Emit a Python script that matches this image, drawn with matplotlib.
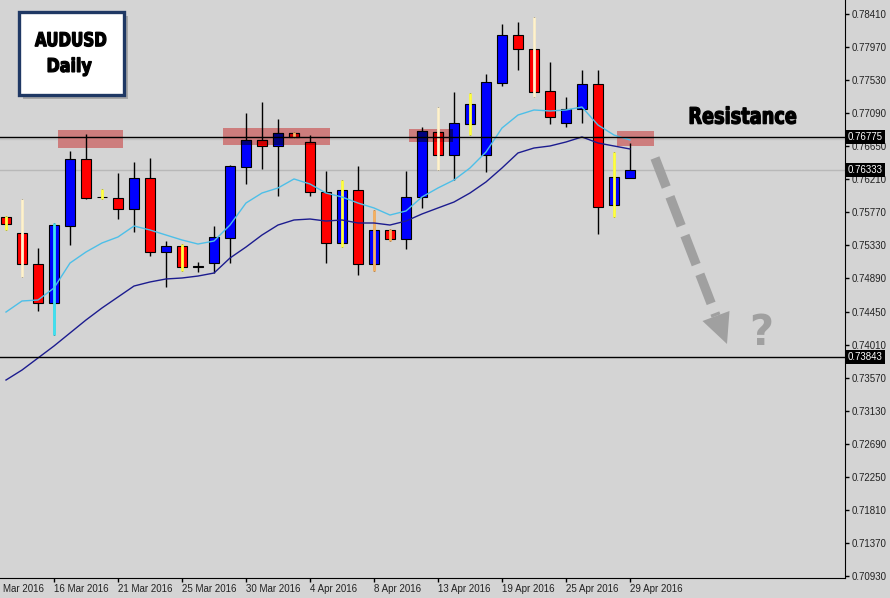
import numpy as np
import matplotlib
matplotlib.use('Agg')
import matplotlib.pyplot as plt
import matplotlib.transforms as mtransforms
from matplotlib.patches import Rectangle, Polygon, PathPatch
from matplotlib.lines import Line2D
from matplotlib.textpath import TextPath
from matplotlib.font_manager import FontProperties

# AUDUSD daily bars, bar 0 = 10 Mar 2016 ... bar 39 = 29 Apr 2016
opens = [0.75712, 0.75491, 0.75078, 0.74559, 0.75592, 0.76476, 0.75978, 0.75957, 0.75810, 0.76223,
         0.75238, 0.75322, 0.75042, 0.75099, 0.75432, 0.76377, 0.76733, 0.76657, 0.76822, 0.76702,
         0.76036, 0.75366, 0.76067, 0.75078, 0.75535, 0.75411, 0.75970, 0.76835, 0.76529, 0.76942,
         0.76529, 0.77487, 0.78130, 0.77940, 0.77385, 0.76955, 0.77141, 0.77474, 0.75863, 0.76231]
highs = [0.75721, 0.75947, 0.75291, 0.75624, 0.76586, 0.76812, 0.76080, 0.76289, 0.76444, 0.76497,
         0.75388, 0.75348, 0.75113, 0.75588, 0.76395, 0.77096, 0.77242, 0.77012, 0.76843, 0.76799,
         0.76324, 0.76200, 0.76387, 0.75801, 0.75544, 0.76316, 0.76910, 0.77176, 0.77375, 0.77362,
         0.77611, 0.78273, 0.78307, 0.78366, 0.77767, 0.77309, 0.77664, 0.77664, 0.76577, 0.76689]
lows = [0.75535, 0.74913, 0.74457, 0.74137, 0.75335, 0.75947, 0.75947, 0.75681, 0.75512, 0.75193,
        0.74780, 0.74993, 0.74980, 0.74956, 0.75091, 0.76147, 0.76343, 0.75987, 0.76755, 0.75987,
        0.75091, 0.75312, 0.74936, 0.74989, 0.75392, 0.75278, 0.75828, 0.76333, 0.76200, 0.76799,
        0.76311, 0.77451, 0.77664, 0.77309, 0.76942, 0.76910, 0.76963, 0.75477, 0.75712, 0.76231]
closes = [0.75611, 0.75078, 0.74559, 0.75601, 0.76476, 0.75965, 0.75970, 0.75810, 0.76223, 0.75238,
          0.75322, 0.75038, 0.75062, 0.75435, 0.76387, 0.76733, 0.76657, 0.76822, 0.76769, 0.76036,
          0.75366, 0.76067, 0.75078, 0.75535, 0.75411, 0.75970, 0.76852, 0.76529, 0.76955, 0.77208,
          0.77501, 0.78130, 0.77940, 0.77375, 0.77043, 0.77141, 0.77474, 0.75837, 0.76236, 0.76333]

# bars flagged by the chart's wick indicator
flag_bars = [0, 1, 3, 6, 11, 18, 21, 23, 24, 27, 29, 33, 38]
flag_kind = ['yellow', 'cream', 'cyan', 'yellow', 'yellow', 'orange', 'yellow', 'orange', 'orange',
             'cream', 'yellow', 'cream', 'yellow']

# moving averages
ma_fast = [0.74443, 0.74590, 0.74603, 0.74763, 0.75095, 0.75242, 0.75362, 0.75442, 0.75588, 0.75535,
           0.75468, 0.75402, 0.75348, 0.75388, 0.75601, 0.75894, 0.76027, 0.76094, 0.76214, 0.76147,
           0.76027, 0.75974, 0.75894, 0.75828, 0.75734, 0.75788, 0.75974, 0.76094, 0.76200, 0.76360,
           0.76573, 0.76892, 0.77065, 0.77132, 0.77119, 0.77132, 0.77172, 0.76932, 0.76799, 0.76733]
ma_slow = [0.73538, 0.73671, 0.73831, 0.73991, 0.74164, 0.74337, 0.74497, 0.74643, 0.74789, 0.74843,
           0.74883, 0.74896, 0.74922, 0.74962, 0.75162, 0.75308, 0.75468, 0.75601, 0.75668, 0.75681,
           0.75654, 0.75668, 0.75628, 0.75628, 0.75601, 0.75654, 0.75748, 0.75828, 0.75907, 0.76027,
           0.76174, 0.76360, 0.76560, 0.76626, 0.76653, 0.76706, 0.76773, 0.76693, 0.76653, 0.76613]

date_ticks = [-1, 3, 7, 11, 15, 19, 23, 27, 31, 35, 39]
date_labels = ['11 Mar 2016', '16 Mar 2016', '21 Mar 2016', '25 Mar 2016', '30 Mar 2016', '4 Apr 2016',
               '8 Apr 2016', '13 Apr 2016', '19 Apr 2016', '25 Apr 2016', '29 Apr 2016']
price_ticks = [0.78410, 0.77970, 0.77530, 0.77090, 0.76650, 0.76210, 0.75770, 0.75330, 0.74890,
               0.74450, 0.74010, 0.73570, 0.73130, 0.72690, 0.72250, 0.71810, 0.71370, 0.70930]
levels = [0.76775, 0.73843]
last_price = 0.76333

# resistance zones: bar from, bar to, price low, price high
zone_x0 = [3.25, 13.56, 25.19, 38.19]
zone_x1 = [7.31, 20.25, 27.94, 40.5]
zone_lo = [0.76626, 0.76666, 0.76706, 0.76653]
zone_hi = [0.76866, 0.76892, 0.76879, 0.76852]

BG = '#D4D4D4'
ZONE = '#CD7D7D'
flag_colors = {'yellow': '#FFFF40', 'cream': '#FFF2CC', 'cyan': '#3FE0F0', 'orange': '#F5B060'}

W, H = 890, 598
fig = plt.figure(figsize=(W / 100, H / 100), dpi=100, facecolor=BG)
ax = fig.add_axes([0, 20 / H, 845 / W, 578 / H])
ax.set_facecolor(BG)
ax.set_xlim(-0.375, 52.44)
ax.set_ylim(0.70903, 0.78596)

x = np.arange(len(opens))
o = np.array(opens)
c = np.array(closes)
bull = c >= o
bottom = np.minimum(o, c)
height = np.maximum(np.abs(c - o), 0.00003)

ax.axhline(last_price, color='#B8B8B8', lw=1, zorder=1)
ax.axhline(levels[0] - 0.0003, color='#C4C4C4', lw=1, zorder=1)

ax.vlines(x, lows, highs, color='black', lw=1, zorder=3)
ax.bar(x, height, bottom=bottom, width=0.62, color=np.where(bull, '#0000FF', '#FF0000'),
       edgecolor='black', linewidth=0.8, zorder=4)

# zones sit behind the candles, candle parts inside look darkened
for x0, x1, lo, hi in zip(zone_x0, zone_x1, zone_lo, zone_hi):
    rect = Rectangle((x0, lo), x1 - x0, hi - lo, fc=ZONE, ec='none', zorder=2)
    ax.add_patch(rect)
    dark = ax.bar(x, height, bottom=bottom, width=0.62, color=np.where(bull, '#00007D', '#CD0000'),
                  edgecolor='black', linewidth=0.8, zorder=4.5)
    for b in dark:
        b.set_clip_path(rect)

for i, k in zip(flag_bars, flag_kind):
    ax.vlines(i, lows[i], highs[i], color=flag_colors[k], lw=2, zorder=5)

ax.plot(x, ma_fast, color='#4DBFE8', lw=1, zorder=6)
ax.plot(x, ma_slow, color='#1C1C8F', lw=1, zorder=6)

for lv in levels:
    ax.axhline(lv, color='black', lw=1, zorder=7)

# axes look
ax.spines['left'].set_visible(False)
ax.spines['top'].set_visible(False)
ax.yaxis.tick_right()
ax.set_yticks(price_ticks)
ax.set_yticklabels([f'{p:.5f}' for p in price_ticks])
ax.tick_params(axis='y', direction='out', length=3, width=1, pad=2, labelsize=7,
               labelcolor='#222222', labelfontfamily='Liberation Sans')
ax.set_xticks(date_ticks[1:])
ax.set_xticklabels(date_labels[1:])
ax.tick_params(axis='x', direction='out', length=3, width=1, pad=1, labelsize=7,
               labelcolor='#222222', labelfontfamily='Liberation Sans')
for lbl in ax.get_xticklabels():
    lbl.set_ha('left')
# first date tick sits left of the plot, only the tail of its label shows
ax.annotate(date_labels[0].split(' ', 1)[1], xy=(date_ticks[0], 0), xycoords=('data', 'axes fraction'),
            xytext=(9.5, -4), textcoords='offset points', ha='left', va='top', fontsize=7,
            color='#222222', family='Liberation Sans', annotation_clip=False)

for p in levels + [last_price]:
    ax.annotate(f'{p:.5f}', xy=(1, p), xycoords=('axes fraction', 'data'), xytext=(2, 0),
                textcoords='offset points', ha='left', va='center', fontsize=7, color='white',
                family='Liberation Sans',
                bbox=dict(boxstyle='square,pad=0.2', fc='black', ec='none'),
                annotation_clip=False, zorder=10)


# overlays drawn in pixel space of the picture
def fx(px):
    return px / W


def fy(py):
    return 1 - py / H


px_to_fig = mtransforms.Affine2D().scale(1 / W, 1 / H) + fig.transFigure
heavy = FontProperties(family='DejaVu Sans', weight='bold')


def fit_text(s, left, right, top, bottom, color='black'):
    # squeeze a bold text path into a box, close to a heavy condensed face
    tp = TextPath((0, 0), s, size=50, prop=heavy)
    ext = tp.get_extents()
    t = (mtransforms.Affine2D()
         .translate(-ext.x0, -ext.y0)
         .scale((right - left) / ext.width, (bottom - top) / ext.height)
         .translate(left, H - bottom)) + px_to_fig
    fig.add_artist(PathPatch(tp, transform=t, fc=color, ec=color, lw=0.9))


fig.add_artist(Rectangle((fx(23), fy(99)), fx(105), 83 / H, fc='#8A8A8A', ec='none', alpha=0.6,
                         transform=fig.transFigure))
fig.add_artist(Rectangle((fx(19), fy(95)), fx(105), 83 / H, fc='white', ec='#1F3864', lw=2.4,
                         transform=fig.transFigure))
fit_text('AUDUSD', 35, 106, 32, 46.5)
fit_text('Daily', 48, 91.5, 57.5, 76)
fit_text('Resistance', 690, 796, 106.5, 124)

fig.add_artist(Line2D([fx(655), fx(716)], [fy(158), fy(316)], transform=fig.transFigure,
                      color='#A0A0A0', lw=6.8, linestyle=(0, (3.3, 1.1)), solid_capstyle='butt'))
fig.add_artist(Polygon([[fx(727), fy(344)], [fx(729.5), fy(311)], [fx(702.5), fy(321)]],
                       closed=True, fc='#A0A0A0', ec='none', transform=fig.transFigure))
fig.text(fx(761), fy(333), '?', ha='center', va='center', fontsize=30, fontweight='bold',
         color='#A0A0A0', family='DejaVu Sans')

fig.savefig('out.png', dpi=100, facecolor=BG)
